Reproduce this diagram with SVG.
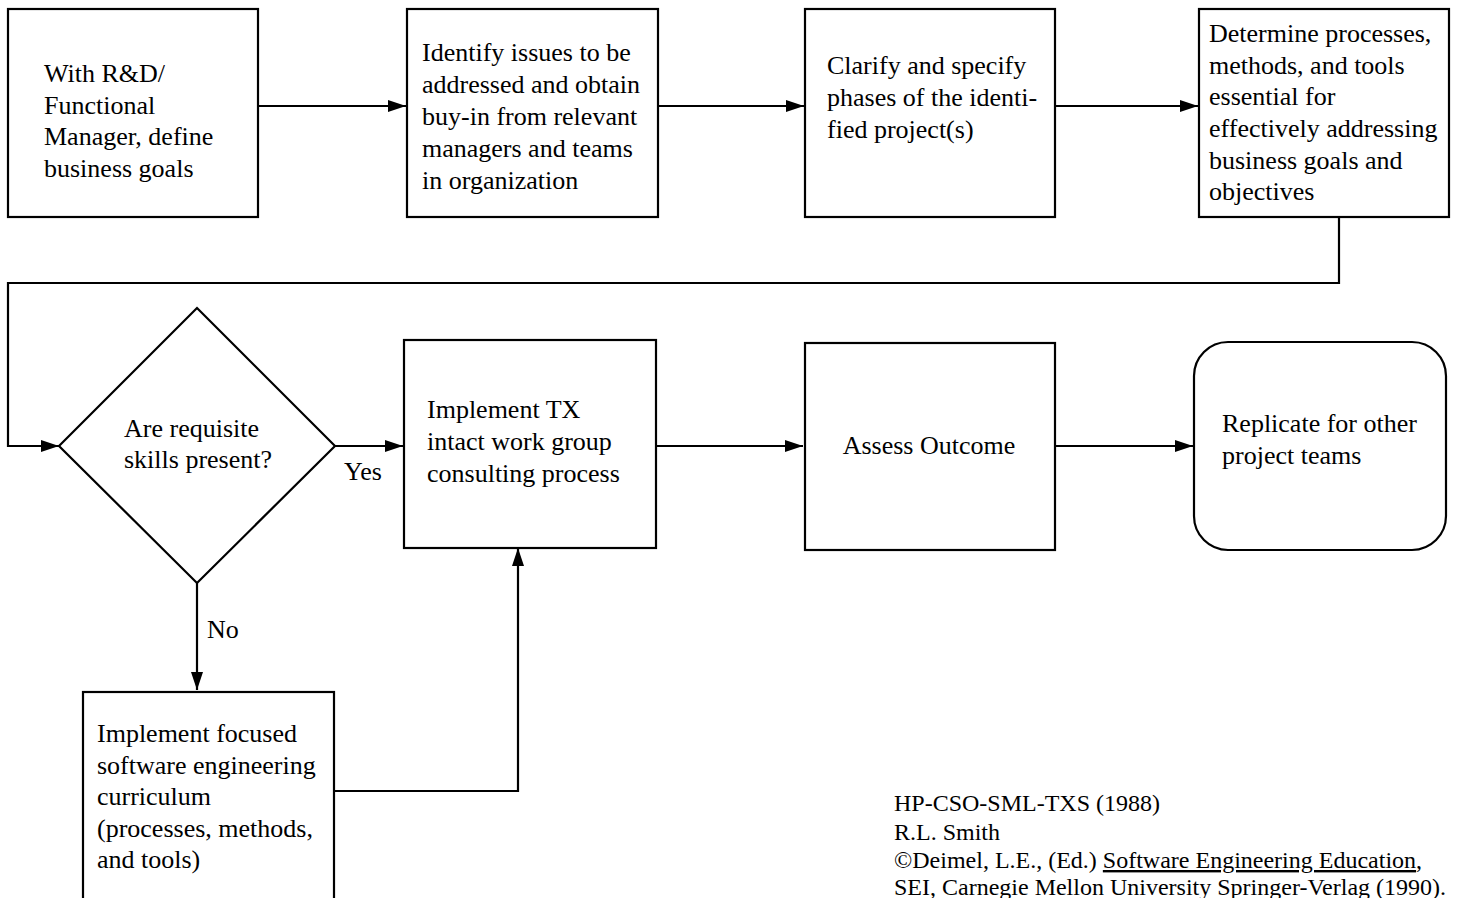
<svg xmlns="http://www.w3.org/2000/svg" width="1459" height="898" viewBox="0 0 1459 898">
<style>
.box{fill:#fff;stroke:#000;stroke-width:2.2}
.lbl{font-family:"Liberation Serif","Times New Roman",serif;font-size:26px;fill:#000}
.cite{font-family:"Liberation Serif","Times New Roman",serif;font-size:24px;fill:#000}
.ln{fill:none;stroke:#000;stroke-width:2.2}
</style>
<defs>
<marker id="ah" markerUnits="userSpaceOnUse" markerWidth="18" markerHeight="12" refX="18" refY="6" orient="auto">
<path d="M0,0 L18,6 L0,12 z" fill="#000"/>
</marker>
</defs>
<rect width="1459" height="898" fill="#fff"/>
<g id="connectors">
<path class="ln" d="M258,106 H406" marker-end="url(#ah)"/>
<path class="ln" d="M658,106 H804" marker-end="url(#ah)"/>
<path class="ln" d="M1055,106 H1198" marker-end="url(#ah)"/>
<path class="ln" d="M1339,217 V283 H8 V446 H59" marker-end="url(#ah)"/>
<path class="ln" d="M335,446 H403" marker-end="url(#ah)"/>
<path class="ln" d="M656,446 H803" marker-end="url(#ah)"/>
<path class="ln" d="M1055,446 H1193" marker-end="url(#ah)"/>
<path class="ln" d="M197,583 V690" marker-end="url(#ah)"/>
<path class="ln" d="M334,791 H518 V548" marker-end="url(#ah)"/>
<text class="lbl" font-family="Liberation Serif, serif" x="344" y="480">Yes</text>
<text class="lbl" font-family="Liberation Serif, serif" x="207" y="638">No</text>
</g>
<g id="n1" font-family="Liberation Serif, serif">
<rect class="box" x="8" y="9" width="250" height="208"/>
<text class="lbl" x="44" y="82">With R&amp;D/</text>
<text class="lbl" x="44" y="113.5">Functional</text>
<text class="lbl" x="44" y="145">Manager, define</text>
<text class="lbl" x="44" y="177">business goals</text>
</g>
<g id="n2">
<rect class="box" x="407" y="9" width="251" height="208"/>
<text class="lbl" x="422" y="61">Identify issues to be</text>
<text class="lbl" x="422" y="93">addressed and obtain</text>
<text class="lbl" x="422" y="125">buy-in from relevant</text>
<text class="lbl" x="422" y="157">managers and teams</text>
<text class="lbl" x="422" y="189">in organization</text>
</g>
<g id="n3">
<rect class="box" x="805" y="9" width="250" height="208"/>
<text class="lbl" x="827" y="74">Clarify and specify</text>
<text class="lbl" x="827" y="106">phases of the identi-</text>
<text class="lbl" x="827" y="138">fied project(s)</text>
</g>
<g id="n4">
<rect class="box" x="1199" y="9" width="250" height="208"/>
<text class="lbl" x="1209" y="42">Determine processes,</text>
<text class="lbl" x="1209" y="73.5">methods, and tools</text>
<text class="lbl" x="1209" y="105">essential for</text>
<text class="lbl" x="1209" y="137">effectively addressing</text>
<text class="lbl" x="1209" y="168.5">business goals and</text>
<text class="lbl" x="1209" y="200">objectives</text>
</g>
<g id="n5">
<polygon class="box" points="197,308 335,446 197,583 59,446"/>
<text class="lbl" x="124" y="437">Are requisite</text>
<text class="lbl" x="124" y="468">skills present?</text>
</g>
<g id="n6">
<rect class="box" x="404" y="340" width="252" height="208"/>
<text class="lbl" x="427" y="418">Implement TX</text>
<text class="lbl" x="427" y="450">intact work group</text>
<text class="lbl" x="427" y="482">consulting process</text>
</g>
<g id="n7">
<rect class="box" x="805" y="343" width="250" height="207"/>
<text class="lbl" x="929" y="454" text-anchor="middle">Assess Outcome</text>
</g>
<g id="n8">
<rect class="box" x="1194" y="342" width="252" height="208" rx="34" ry="34"/>
<text class="lbl" x="1222" y="432">Replicate for other</text>
<text class="lbl" x="1222" y="464">project teams</text>
</g>
<g id="n9">
<rect class="box" x="83" y="692" width="251" height="230"/>
<text class="lbl" x="97" y="742">Implement focused</text>
<text class="lbl" x="97" y="773.5">software engineering</text>
<text class="lbl" x="97" y="805">curriculum</text>
<text class="lbl" x="97" y="837">(processes, methods,</text>
<text class="lbl" x="97" y="868">and tools)</text>
</g>
<g id="citation">
<text class="cite" x="894" y="811">HP-CSO-SML-TXS (1988)</text>
<text class="cite" x="894" y="840">R.L. Smith</text>
<text class="cite" x="894" y="868">©Deimel, L.E., (Ed.) <tspan text-decoration="underline">Software Engineering Education</tspan>,</text>
<text class="cite" x="894" y="895">SEI, Carnegie Mellon University Springer-Verlag (1990).</text>
</g>
</svg>
